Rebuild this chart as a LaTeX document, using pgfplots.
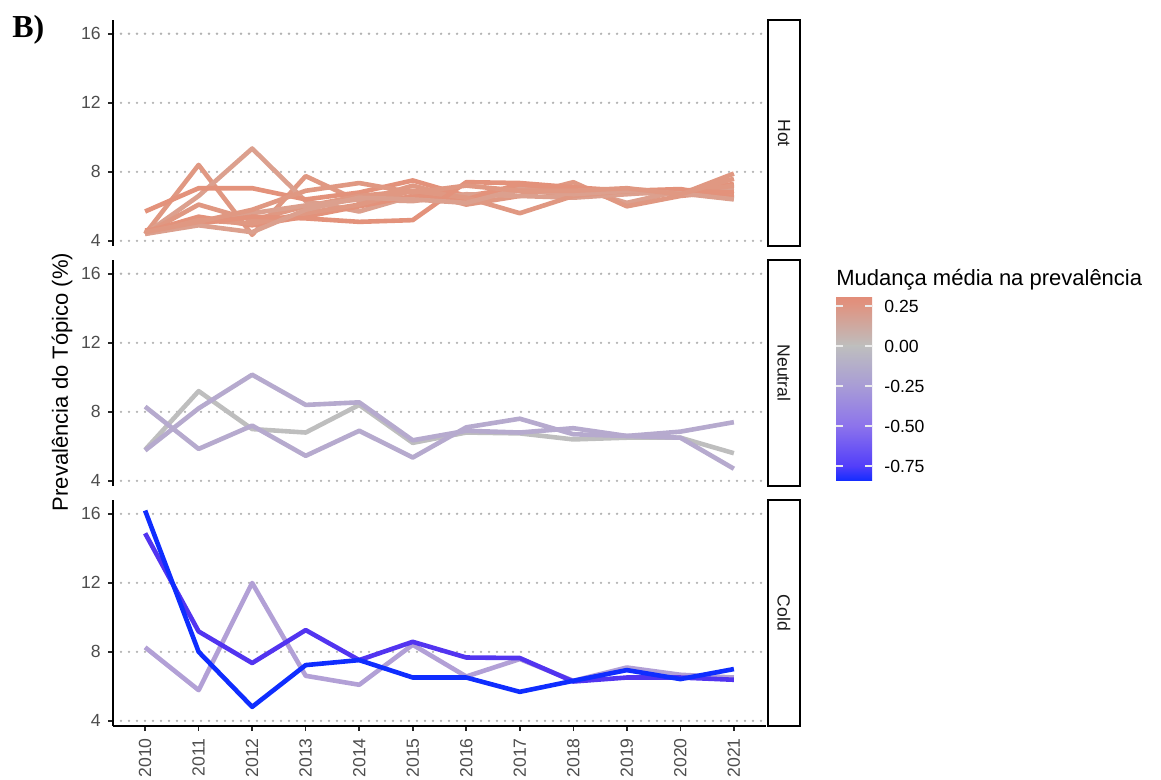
\documentclass[border=0pt]{standalone}
\usepackage{pgfplots}
\usepackage{pgfplotstable}
\pgfplotsset{compat=1.18}
\usepackage{fontspec}
\setmainfont{Liberation Sans}
\newfontfamily\serifbold{Liberation Serif}

\definecolor{hotA}{RGB}{224,152,130}
\definecolor{hotB}{RGB}{220,160,142}
\definecolor{hotC}{RGB}{227,146,123}
\definecolor{greyN}{RGB}{190,190,190}
\definecolor{lavN}{RGB}{182,170,206}
\definecolor{lavC}{RGB}{178,160,214}
\definecolor{purC}{RGB}{82,52,240}
\definecolor{bluC}{RGB}{15,45,255}
\definecolor{tickgrey}{RGB}{77,77,77}
\definecolor{stripgrey}{RGB}{26,26,26}
\definecolor{cbA}{RGB}{226,142,122}
\definecolor{cbB}{RGB}{222,149,131}
\definecolor{cbC}{RGB}{190,190,190}
\definecolor{cbD}{RGB}{168,156,214}
\definecolor{cbE}{RGB}{140,115,236}
\definecolor{cbF}{RGB}{82,62,250}
\definecolor{cbG}{RGB}{22,45,255}

\pgfplotstableread{
year h1 h2 h3 h4 h5 h6 h7 h8 h9 h10
2010 4.4 4.4 5.7 4.4 4.5 4.5 4.4 4.6 4.4 4.5
2011 8.4 6.6 7.05 6.1 5.0 5.4 5.2 5.0 4.9 5.1
2012 4.35 9.35 7.05 5.2 5.6 4.9 5.0 5.4 4.5 5.8
2013 7.75 6.3 6.4 6.0 6.05 5.4 5.6 5.3 5.8 6.9
2014 6.3 5.7 6.8 6.6 6.4 6.0 6.1 5.1 6.5 7.35
2015 7.2 6.6 7.5 6.9 6.3 6.6 6.9 5.2 6.4 6.8
2016 6.4 6.5 6.6 6.1 6.7 6.4 6.5 7.4 6.2 7.2
2017 7.0 6.9 7.1 6.6 6.6 7.3 5.6 7.35 7.0 6.9
2018 6.6 7.1 6.8 7.4 6.5 6.8 6.6 7.1 6.7 6.9
2019 6.8 6.2 7.0 6.0 6.7 6.9 6.9 6.9 6.9 7.05
2020 6.7 6.9 6.8 6.6 6.9 7.0 6.8 6.9 6.75 6.7
2021 7.9 6.7 7.3 6.9 7.1 6.5 7.2 6.8 6.4 7.6
}\hotdata

\pgfplotstableread{
year g l1 l2
2010 5.8 5.76 8.3
2011 9.2 8.2 5.85
2012 7.0 10.15 7.2
2013 6.8 8.4 5.45
2014 8.4 8.55 6.9
2015 6.2 6.35 5.35
2016 6.8 6.9 7.1
2017 6.75 6.8 7.6
2018 6.4 7.05 6.7
2019 6.5 6.6 6.6
2020 6.5 6.85 6.5
2021 5.6 7.4 4.7
}\neutraldata

\pgfplotstableread{
year lav pur blu
2010 8.26 14.87 16.19
2011 5.78 9.18 8.0
2012 11.99 7.35 4.81
2013 6.61 9.26 7.23
2014 6.09 7.52 7.52
2015 8.41 8.58 6.51
2016 6.57 7.67 6.51
2017 7.58 7.64 5.68
2018 6.32 6.28 6.32
2019 7.09 6.51 6.94
2020 6.67 6.51 6.42
2021 6.51 6.38 7.0
}\colddata

\pgfplotsset{facet/.style={
  width=326.5pt, height=113pt, scale only axis,
  anchor=north west,
  xmin=2009.4, xmax=2021.6, ymin=3.7, ymax=16.8,
  ytick={4,8,12,16},
  axis y line*=left,
  axis line style={-, line width=0.8pt, black},
  ymajorgrids,
  grid style={draw=gray!60, line width=1.3pt, dash pattern=on 0pt off 4pt, line cap=round},
  tick align=outside, major tick length=2.6pt,
  every tick/.style={black!85, line width=0.8pt},
  tick label style={font=\fontsize{8.8}{10}\selectfont, text=tickgrey},
  /pgf/number format/assume math mode=true,
  every axis plot/.append style={line width=2.3pt, line join=round, no markers},
}}

\begin{document}
\begin{tikzpicture}
\useasboundingbox (0,0) rectangle (580.5pt,-390pt);

% panel 1: Hot
\begin{axis}[facet, at={(56.5pt,-10pt)}, axis x line=none]
\addplot[hotA] table[x=year,y=h1] {\hotdata};
\addplot[hotB] table[x=year,y=h2] {\hotdata};
\addplot[hotC] table[x=year,y=h3] {\hotdata};
\addplot[hotA] table[x=year,y=h4] {\hotdata};
\addplot[hotB] table[x=year,y=h5] {\hotdata};
\addplot[hotC] table[x=year,y=h6] {\hotdata};
\addplot[hotA] table[x=year,y=h7] {\hotdata};
\addplot[hotC] table[x=year,y=h8] {\hotdata};
\addplot[hotB] table[x=year,y=h9] {\hotdata};
\addplot[hotA] table[x=year,y=h10] {\hotdata};
\end{axis}

% panel 2: Neutral
\begin{axis}[facet, at={(56.5pt,-130pt)}, axis x line=none]
\addplot[greyN] table[x=year,y=g] {\neutraldata};
\addplot[lavN] table[x=year,y=l1] {\neutraldata};
\addplot[lavN] table[x=year,y=l2] {\neutraldata};
\end{axis}

% panel 3: Cold
\begin{axis}[facet, at={(56.5pt,-250pt)}, axis x line*=bottom,
  xtick={2010,2011,...,2021},
  xticklabel style={rotate=90, anchor=east, /pgf/number format/1000 sep={}},
  ]
\addplot[lavC] table[x=year,y=lav] {\colddata};
\addplot[purC] table[x=year,y=pur] {\colddata};
\addplot[bluC] table[x=year,y=blu] {\colddata};
\end{axis}

% strips
\foreach \yt/\lab in {10/Hot,130/Neutral,250/Cold}{
  \draw[line width=1pt, fill=white] (384pt,-\yt pt) rectangle (400pt,-\yt pt-113pt);
  \node[rotate=-90, font=\fontsize{8.8}{10}\selectfont, text=stripgrey] at (392pt,-\yt pt-56.5pt) {\lab};
}

% y axis title
\node[rotate=90, font=\fontsize{11}{13}\selectfont] at (31pt,-191pt) {Prevalência do Tópico (\%)};

% panel tag
\node[anchor=base west, font=\serifbold\bfseries\fontsize{16}{18}\selectfont, inner sep=0pt] at (6pt,-19pt) {B)};

% colour bar legend
\node[anchor=base west, inner sep=0pt, font=\fontsize{11}{13}\selectfont] at (418pt,-143pt) {Mudança média na prevalência};
\shade[top color=cbA, bottom color=cbB] (418pt,-149pt) rectangle (436pt,-153.2pt);
\shade[top color=cbB, bottom color=cbC] (418pt,-153pt) rectangle (436pt,-173.2pt);
\shade[top color=cbC, bottom color=cbD] (418pt,-173pt) rectangle (436pt,-193.2pt);
\shade[top color=cbD, bottom color=cbE] (418pt,-193pt) rectangle (436pt,-213.2pt);
\shade[top color=cbE, bottom color=cbF] (418pt,-213pt) rectangle (436pt,-233.2pt);
\shade[top color=cbF, bottom color=cbG] (418pt,-233pt) rectangle (436pt,-240pt);
\foreach \yy/\lab in {153/0.25,173/0.00,193/-0.25,213/-0.50,233/-0.75}{
  \draw[white!85!gray, line width=0.6pt] (418pt,-\yy pt) -- (421.5pt,-\yy pt);
  \draw[white!85!gray, line width=0.6pt] (432.5pt,-\yy pt) -- (436pt,-\yy pt);
  \node[anchor=west, inner sep=0pt, font=\fontsize{8.8}{10}\selectfont] at (442pt,-\yy pt) {\lab};
}
\end{tikzpicture}
\end{document}
